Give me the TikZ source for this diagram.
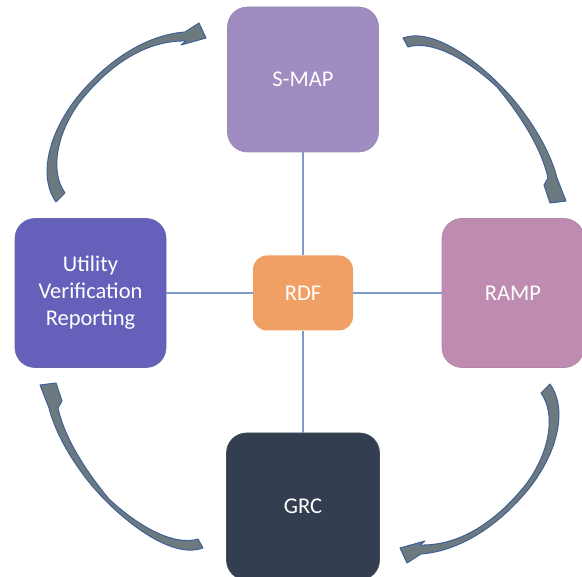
\documentclass[tikz,border=0pt]{standalone}
\usepackage{fontspec}
\setmainfont{Carlito}
\definecolor{smapc}{RGB}{159,140,192}
\definecolor{rampc}{RGB}{190,139,177}
\definecolor{utilc}{RGB}{101,97,186}
\definecolor{grcc}{RGB}{51,62,80}
\definecolor{rdfc}{RGB}{240,160,100}
\definecolor{linkblue}{RGB}{126,154,200}
\definecolor{arrowgray}{RGB}{108,122,128}
\definecolor{arrowblue}{RGB}{62,96,150}
\begin{document}
\begin{tikzpicture}[x=1pt,y=-1pt,
  box/.style={rectangle, rounded corners=20pt, text=white, align=center,
    inner sep=0pt, font=\fontsize{22.5}{27}\selectfont, line width=0.7pt},
  link/.style={draw=linkblue, line width=1.5pt},
  cycarrow/.style={fill=arrowgray, draw=arrowblue, line width=1pt, line join=round}]
\useasboundingbox (0,0) rectangle (582,577);

% outer ring of boxes and the centre box
\node[box, fill=smapc, draw=smapc!80!gray, minimum width=151pt, minimum height=145pt] (smap) at (303,79.5) {S-MAP};
\node[box, fill=rampc, draw=rampc!80!gray, minimum width=142pt, minimum height=149pt] (ramp) at (513,293) {RAMP};
\node[box, fill=utilc, draw=utilc!80!gray, minimum width=151pt, minimum height=149pt] (util) at (90.5,293) {Utility\\Verification\\Reporting};
\node[box, fill=grcc, draw=grcc!80!gray, minimum width=153pt, minimum height=147pt] (grc) at (303,506.5) {GRC};
\node[box, fill=rdfc, rounded corners=14pt, minimum width=100pt, minimum height=75pt] (rdf) at (303,293) {RDF};

% spokes from the centre
\draw[link] (smap.south) -- (rdf.north);
\draw[link] (rdf.south) -- (grc.north);
\draw[link] (util.east) -- (rdf.west);
\draw[link] (rdf.east) -- (ramp.west);

% curved block arrows of the cycle
\def\arrowA{(56,202) .. controls (40,180) and (45,140) .. (75,100)
  .. controls (105,62) and (145,35) .. (185,32) -- (199,23) -- (206,38) -- (181,45) -- (186,41)
  .. controls (145,40) and (108,66) .. (79,103)
  .. controls (56,135) and (50,172) .. (65,193) -- cycle}
\def\arrowB{(403,38) .. controls (430,28) and (470,55) .. (500,85)
  .. controls (528,113) and (550,150) .. (557,178) -- (566,201) -- (550,203) -- (544,185) -- (548,178)
  .. controls (542,150) and (522,117) .. (497,87)
  .. controls (465,57) and (430,40) .. (408,47) -- cycle}
\path[cycarrow] \arrowA;
\path[cycarrow] \arrowB;
\begin{scope}[rotate around={180:(303,293)}]
  \path[cycarrow] \arrowA;
  \path[cycarrow] \arrowB;
\end{scope}
\end{tikzpicture}
\end{document}
